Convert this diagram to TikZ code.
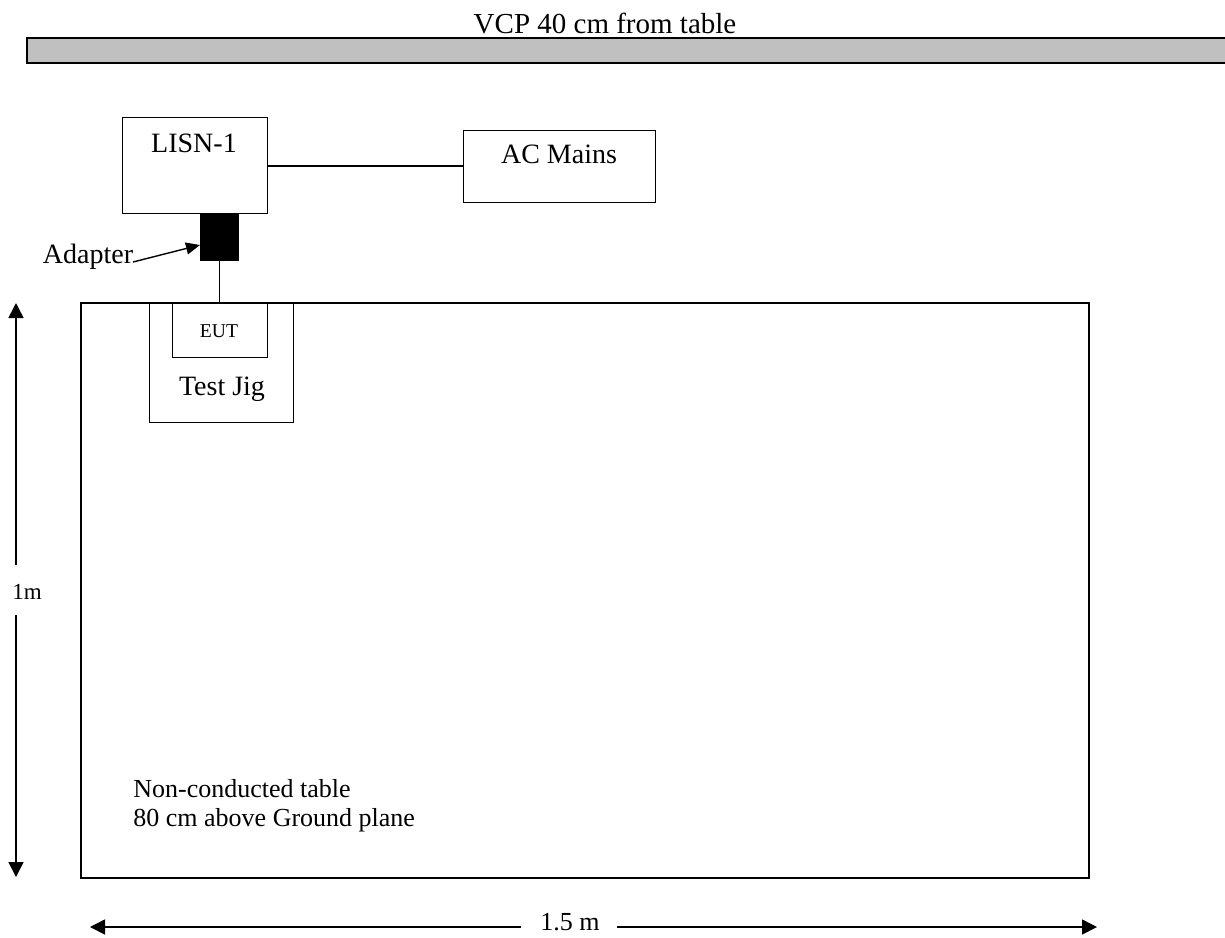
\documentclass[tikz,border=0pt]{standalone}
\usepackage{fontspec}
\setmainfont{Liberation Serif}
\usetikzlibrary{arrows.meta}
\definecolor{bargray}{HTML}{C0C0C0}
\begin{document}
\begin{tikzpicture}[x=0.5pt,y=-0.5pt,
  box/.style={draw,line width=0.7pt,inner sep=0pt,anchor=north west},
  lbl/.style={inner sep=0pt,anchor=base,font=\fontsize{14}{16}\selectfont},
  wire/.style={line width=0.7pt},
  dim/.style={line width=0.8pt,-{Triangle[length=7.5pt,width=7.5pt]}}]
\useasboundingbox (0,0) rectangle (1225,937);
% VCP bar
\node[box,fill=bargray,line width=1.1pt,minimum width=610pt,minimum height=12.5pt] (bar) at (26,37) {};
\node[lbl,font=\fontsize{14.5}{16}\selectfont] (vcp) at (605,33) {VCP 40 cm from table};
% LISN
\node[box,minimum width=72.5pt,minimum height=48pt] (lisn) at (122,117) {};
\node[lbl] (lisnt) at (194,152) {LISN-1};
% AC mains
\node[box,minimum width=96pt,minimum height=36pt] (ac) at (463,130) {};
\node[lbl] (act) at (559,163) {AC Mains};
\draw[wire] (lisn.east |- 0,166) -- (ac.west |- 0,166);
% adapter
\node[box,fill=black,minimum width=19pt,minimum height=23.5pt] (adp) at (200,213) {};
\node[lbl] (adpt) at (88,263) {Adapter};
\draw[line width=0.7pt,-{Triangle[length=7pt,width=6pt]}] (133,262) -- (adp.west |- 0,245);
% table
\node[box,line width=0.9pt,minimum width=504pt,minimum height=287.5pt] (tbl) at (80,302) {};
\draw[wire] (adp.south) -- (adp.south |- tbl.north);
% test jig and EUT
\node[box,minimum width=72pt,minimum height=59.5pt] (jig) at (149,303) {};
\node[box,minimum width=47.5pt,minimum height=27pt] (eut) at (172,303) {};
\node[inner sep=0pt,font=\fontsize{9.8}{11}\selectfont] (eutt) at (219,331) {EUT};
\node[lbl] (jigt) at (222,395) {Test Jig};
% table text
\node[lbl,anchor=base west,font=\fontsize{13}{15}\selectfont] (tx1) at (133,797) {Non-conducted table};
\node[lbl,anchor=base west,font=\fontsize{13}{15}\selectfont] (tx2) at (133,826) {80 cm above Ground plane};
% vertical dimension
\coordinate (vtop) at (16,303);
\coordinate (vbot) at (16,877);
\coordinate (vg1) at (16,565);
\coordinate (vg2) at (16,615);
\node[inner sep=0pt,anchor=west,font=\fontsize{11.5}{13}\selectfont] (onem) at (12,592) {1m};
\draw[dim] (vg1) -- (vtop);
\draw[dim] (vg2) -- (vbot);
% horizontal dimension
\coordinate (hl) at (90,927);
\coordinate (hr) at (1097,927);
\coordinate (hg1) at (521,927);
\coordinate (hg2) at (617,927);
\node[inner sep=0pt,font=\fontsize{13}{15}\selectfont] (onefive) at (570,922) {1.5 m};
\draw[dim] (hg1) -- (hl);
\draw[dim] (hg2) -- (hr);
\end{tikzpicture}
\end{document}
